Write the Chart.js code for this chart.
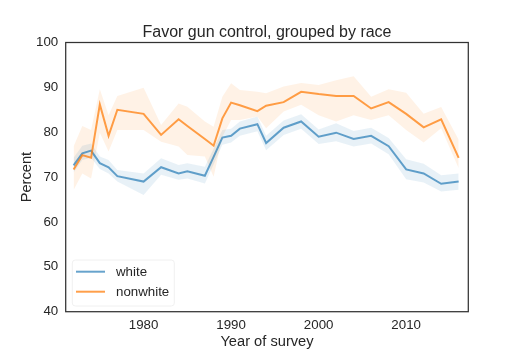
<!DOCTYPE html>
<html>
<head>
<meta charset="utf-8">
<script src="https://cdn.jsdelivr.net/npm/chart.js@4/dist/chart.umd.min.js"></script>
<style>
  html, body { margin: 0; padding: 0; background: #ffffff; }
  #wrap { width: 520px; height: 357px; position: relative; }
</style>
</head>
<body>
<div id="wrap"><canvas id="c" width="520" height="357"></canvas></div>
<script>
const years = [1972,1973,1974,1975,1976,1977,1980,1982,1984,1985,1987,1988,1989,1990,1991,1993,1994,1996,1998,2000,2002,2004,2006,2008,2010,2012,2014,2016];
const white = [72.6,75.3,75.9,73.1,72.2,70.2,69.0,72.2,70.8,71.3,70.3,74.5,78.8,79.2,80.8,81.8,77.6,81.0,82.4,79.0,79.9,78.5,79.2,76.9,71.7,70.8,68.5,69.0];
const whiteLow = [71.0,73.8,74.3,71.8,70.8,69.0,66.0,70.5,69.4,69.7,68.6,72.8,77.2,77.7,79.2,80.2,76.0,79.4,80.8,77.4,78.0,76.8,77.5,75.1,69.5,68.8,66.8,67.2];
const whiteHigh = [74.3,77.0,77.5,74.6,73.8,71.6,70.8,74.2,72.7,73.1,72.3,76.3,80.5,80.8,82.4,83.5,79.2,82.6,84.0,80.6,82.0,80.3,81.0,78.7,74.0,73.0,70.4,70.8];
const nonwhite = [71.7,74.9,74.3,86.2,79.2,85.0,84.1,79.4,82.9,81.4,78.5,77.0,83.1,86.6,86.0,84.7,85.9,86.7,89.0,88.5,88.1,88.1,85.3,86.7,84.1,81.1,82.9,74.3];
const nonwhiteLow = [67.1,70.8,69.7,79.9,75.7,80.5,80.5,77.9,76.8,74.9,74.6,70.1,79.0,82.7,82.7,83.5,80.9,84.6,86.1,83.8,82.4,83.8,82.7,83.8,80.5,77.7,80.9,72.0];
const nonwhiteHigh = [76.8,81.4,80.5,89.6,83.8,88.1,89.9,81.6,86.4,85.7,82.4,81.2,87.9,90.9,89.4,89.0,88.7,90.2,91.0,90.5,91.6,92.5,87.9,89.6,88.8,84.1,85.6,78.3];
const xTicks = [1980,1990,2000,2010];
const yTicks = [40,50,60,70,80,90,100];
const seriesNames = ['white','nonwhite'];

const blueLine = 'rgba(31,119,180,0.68)';
const orangeLine = 'rgba(255,127,14,0.75)';
const blueFill = 'rgba(31,119,180,0.1)';
const orangeFill = 'rgba(255,127,14,0.1)';
const textColor = '#262626';
const FONT = "'Liberation Sans', Arial, sans-serif";

function pts(ys) { return years.map((x, i) => ({x: x, y: ys[i]})); }

const frameAndLegend = {
  id: 'frameAndLegend',
  afterDraw(chart) {
    const ctx = chart.ctx;
    const a = chart.chartArea;
    ctx.save();
    ctx.strokeStyle = '#333333';
    ctx.lineWidth = 1.25;
    ctx.strokeRect(a.left, a.top, a.right - a.left, a.bottom - a.top);
    // legend box
    const bx = 72.3, by = 260, bw = 102, bh = 46, r = 3;
    ctx.beginPath();
    ctx.moveTo(bx + r, by);
    ctx.lineTo(bx + bw - r, by);
    ctx.quadraticCurveTo(bx + bw, by, bx + bw, by + r);
    ctx.lineTo(bx + bw, by + bh - r);
    ctx.quadraticCurveTo(bx + bw, by + bh, bx + bw - r, by + bh);
    ctx.lineTo(bx + r, by + bh);
    ctx.quadraticCurveTo(bx, by + bh, bx, by + bh - r);
    ctx.lineTo(bx, by + r);
    ctx.quadraticCurveTo(bx, by, bx + r, by);
    ctx.closePath();
    ctx.fillStyle = 'rgba(255,255,255,0.8)';
    ctx.fill();
    ctx.strokeStyle = '#f0f0f0';
    ctx.lineWidth = 1;
    ctx.stroke();
    const items = [
      {label: seriesNames[0], color: blueLine, y: 271.7},
      {label: seriesNames[1], color: orangeLine, y: 291.7}
    ];
    ctx.font = '13.3px ' + FONT;
    ctx.textBaseline = 'middle';
    ctx.textAlign = 'left';
    items.forEach(it => {
      ctx.beginPath();
      ctx.strokeStyle = it.color;
      ctx.lineWidth = 2;
      ctx.moveTo(76, it.y);
      ctx.lineTo(105, it.y);
      ctx.stroke();
      ctx.fillStyle = textColor;
      ctx.fillText(it.label, 116, it.y + 0.5);
    });
    ctx.restore();
  }
};

const bandBase = {pointRadius: 0, borderWidth: 0, tension: 0, order: 5};

new Chart(document.getElementById('c'), {
  type: 'line',
  data: {
    datasets: [
      Object.assign({label: 'white_low', data: pts(whiteLow), fill: false, borderColor: 'rgba(0,0,0,0)'}, bandBase),
      Object.assign({label: 'white_high', data: pts(whiteHigh), fill: '-1', backgroundColor: blueFill, borderColor: 'rgba(0,0,0,0)'}, bandBase),
      Object.assign({label: 'nonwhite_low', data: pts(nonwhiteLow), fill: false, borderColor: 'rgba(0,0,0,0)'}, bandBase),
      Object.assign({label: 'nonwhite_high', data: pts(nonwhiteHigh), fill: '-1', backgroundColor: orangeFill, borderColor: 'rgba(0,0,0,0)'}, bandBase),
      {label: seriesNames[0], data: pts(white), borderColor: blueLine, borderWidth: 2, pointRadius: 0, fill: false, tension: 0, order: 1},
      {label: seriesNames[1], data: pts(nonwhite), borderColor: orangeLine, borderWidth: 2, pointRadius: 0, fill: false, tension: 0, order: 0}
    ]
  },
  options: {
    responsive: false,
    animation: false,
    devicePixelRatio: 1,
    layout: {padding: {left: 0, right: 51.7, top: 0, bottom: 0}},
    plugins: {
      legend: {display: false},
      tooltip: {enabled: false},
      title: {
        display: true,
        text: 'Favor gun control, grouped by race',
        color: textColor,
        fullSize: false,
        font: {family: FONT, size: 16, weight: 'normal', lineHeight: 1.2},
        padding: {top: 23, bottom: 0.3}
      }
    },
    scales: {
      x: {
        type: 'linear',
        min: 1971.1,
        max: 2017.1,
        grid: {display: false, drawTicks: false},
        border: {display: false},
        afterBuildTicks(scale) { scale.ticks = xTicks.map(v => ({value: v})); },
        afterFit(scale) { scale.height = 45.3; },
        ticks: {color: textColor, font: {family: FONT, size: 13.3}, padding: 6, maxRotation: 0,
                callback: v => String(v)},
        title: {display: true, text: 'Year of survey', color: textColor,
                font: {family: FONT, size: 14.67, lineHeight: 1.2}, padding: {top: 0, bottom: 6.2}}
      },
      y: {
        min: 40,
        max: 100,
        grid: {display: false, drawTicks: false},
        border: {display: false},
        afterBuildTicks(scale) { scale.ticks = yTicks.map(v => ({value: v})); },
        afterFit(scale) { scale.width = 65.7; },
        ticks: {color: textColor, font: {family: FONT, size: 13.3}, padding: 7.5},
        title: {display: true, text: 'Percent', color: textColor,
                font: {family: FONT, size: 14.67, lineHeight: 1.2}, padding: {top: 18.5, bottom: 0}}
      }
    }
  },
  plugins: [frameAndLegend]
});
</script>
</body>
</html>
